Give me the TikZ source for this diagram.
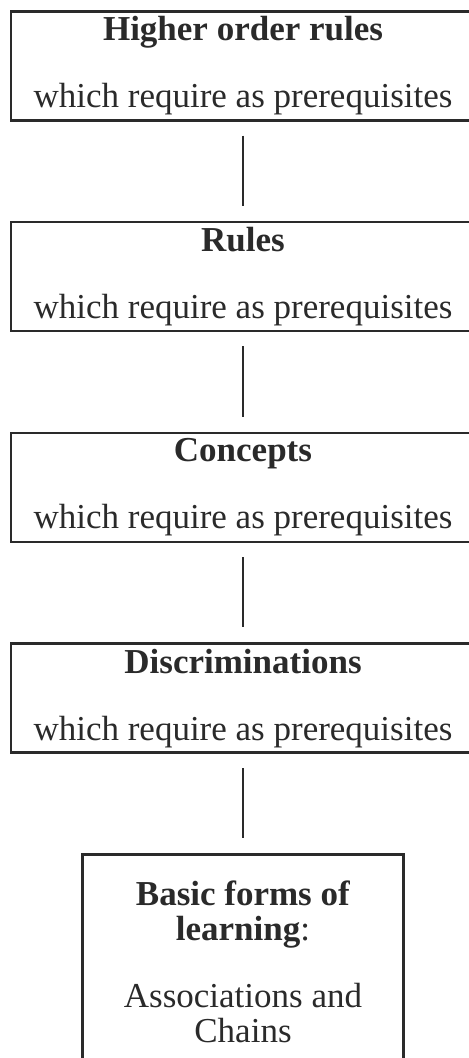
\documentclass[tikz,border=0pt]{standalone}
\usepackage{fontspec}
\setmainfont{Liberation Serif}
\usepackage{tikz}
\usetikzlibrary{positioning}
\definecolor{hierInk}{HTML}{2A2A2A}
\tikzset{
    hierBox/.style={
        rectangle,
        draw=hierInk,
        line width=1.3pt,
        minimum width=232pt,
        minimum height=54.5pt,
        inner ysep=2pt,
        align=center,
        text=hierInk,
        font=\fontsize{17.5}{17.5}\selectfont
    },
    % bottom box, cut by the page edge
    baseBox/.style={hierBox, minimum width=160.5pt, minimum height=107pt},
    hierLink/.style={draw=hierInk, line width=1pt, shorten <=7pt, shorten >=7.5pt}
}

\begin{document}
\begin{tikzpicture}
\useasboundingbox (0,0) rectangle (234pt,-529pt);
\node[hierBox, anchor=north] (hor) at (121.5pt,-5pt) {\textbf{Higher order rules}\\[16pt]which require as prerequisites};
\node[hierBox, below=49.6pt of hor] (rul) {\textbf{Rules}\\[16pt]which require as prerequisites};
\node[hierBox, below=49.6pt of rul] (con) {\textbf{Concepts}\\[16pt]which require as prerequisites};
\node[hierBox, below=49.6pt of con] (dis) {\textbf{Discriminations}\\[16pt]which require as prerequisites};
\node[baseBox, below=49.6pt of dis] (bas) {\textbf{Basic forms of}\\\textbf{learning}:\\[16pt]Associations and\\Chains};
\draw[hierLink] (hor) -- (rul);
\draw[hierLink] (rul) -- (con);
\draw[hierLink] (con) -- (dis);
\draw[hierLink] (dis) -- (bas);
\end{tikzpicture}
\end{document}
